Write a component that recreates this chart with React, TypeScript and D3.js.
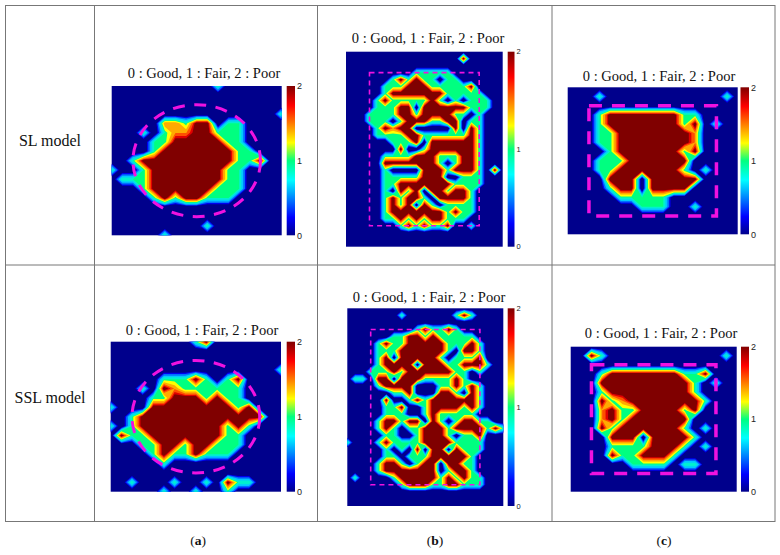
import React from 'react';
import * as d3 from 'd3';

// 0 : Good, 1 : Fair, 2 : Poor -- one string per grid row, 3 stands for a cell read as 1.5
const slA = [
  '00000000001000000',
  '00000000000000000',
  '00000000000000000',
  '00000000000000001',
  '00000331220110000',
  '00010133221110000',
  '00001122222110000',
  '00001222222211000',
  '00122222222211200',
  '10012222222110000',
  '01112222222110000',
  '00012222221110000',
  '00001212211100000',
  '00000000000000000',
  '00000000000000000',
  '00000000010000000',
  '00000100000000000',
];
const sslA = [
  '00000000120000000',
  '00000000000000000',
  '00000000000000000',
  '00000000000000001',
  '00000111210120000',
  '00010231111110000',
  '00001122212110000',
  '10002222222212000',
  '00122222222222200',
  '10122222222121000',
  '02112222222110000',
  '00011221221110000',
  '00001211211100000',
  '00000100000000000',
  '00000000000000000',
  '00100010010211000',
  '00000100100100000',
];
const slB = [
  '000000000000000000000',
  '000000000000000200000',
  '000000000000000000000',
  '000000000111110000000',
  '000000121211011000000',
  '000001112221111120000',
  '000001222222211111000',
  '000012111112101011100',
  '000011122022222211100',
  '000111122122221101000',
  '000111012221122011000',
  '000012322000002021000',
  '000011112211111121000',
  '000000111202222221000',
  '000000020012222221000',
  '000001111222111221000',
  '000002222222101221000',
  '000001000022212221020',
  '000001111122200111000',
  '000001122222221111000',
  '000001021202212210000',
  '000001212210222210000',
  '000001212021011110000',
  '000001222222212110000',
  '000001121212211100000',
  '000000012121120010000',
  '000000000000000000000',
  '000000000000000000000',
  '000000000000000000000',
];
const sslB = [
  '000000000000000000000',
  '000000010000001210000',
  '000000000000000000000',
  '000000000121121000000',
  '000000112212111110000',
  '000012112222211121000',
  '000011122222210221000',
  '000012022222101112000',
  '000012222022211222100',
  '000111212222221101000',
  '011022022211112100000',
  '000012222000112121000',
  '000000112000221021000',
  '000002001212222221000',
  '000001120012222121000',
  '000001110012111110000',
  '000012212202101221100',
  '000012101122212222121',
  '000001100122210112000',
  '100012111122221111000',
  '000001010202202111000',
  '000001101112222210000',
  '000012210122022110000',
  '000012222222012210000',
  '010000122222121211000',
  '000000012221122111000',
  '000000000000000000000',
  '000000000000000000000',
  '000000000000000000000',
];
const slC = [
  '00000000000000000',
  '00010000000000010',
  '00000000000000000',
  '00012222222110000',
  '00012222222120100',
  '00011222222230000',
  '00011222222230000',
  '00001222222120000',
  '00011122222200000',
  '00011222222101000',
  '00002220222220000',
  '00001220222200000',
  '00000111110000000',
  '00000001110010000',
  '00000000000000000',
  '00000000000000000',
  '00000000000000000',
];
const sslC = [
  '00000000000000000',
  '00210000000000010',
  '00000000000000000',
  '00012222222112000',
  '00022222222210100',
  '00012222222210000',
  '00021322222221000',
  '00032112222120000',
  '00032122222200000',
  '00021222222101000',
  '00002220222210000',
  '00001111222101000',
  '00002112221000000',
  '00000011110110000',
  '00000000000000000',
  '00000000000000000',
  '00000000000000000',
];

const levels = [0.32, 0.45, 0.62, 0.8, 1, 1.12, 1.32, 1.52, 1.68, 1.8];
const levelColors = ['#0000f0', '#0070ff', '#00c8ff', '#00f0d0', '#00ff80', '#ffff00', '#ffaa00', '#ff5000', '#e00000', '#800000'];
const navy = '#00008c';

const barStops = [0, 0.12, 0.37, 0.5, 0.62, 0.87, 1];
const barColors = ['#00008c', '#0000ff', '#00ffff', '#00ff80', '#ffff00', '#ff0000', '#800000'];
const barTicks = [0, 1, 2];

const title = '0 : Good, 1 : Fair, 2 : Poor';
const rowLabels = ['SL model', 'SSL model'];
const captions = ['a', 'b', 'c'];

type Panel = {
  rows: string[];
  box: number[];
  bar: number[];
  titleAt: number[];
  tickSize: number;
  zone: 'circle' | 'rect';
  zoneArgs: number[];
  dash: string;
  zoneWidth: number;
};

const panels: Panel[] = [
  { rows: slA, box: [111.7, 86, 281.7, 235.3], bar: [286.7, 295], titleAt: [204, 78], tickSize: 9, zone: 'circle', zoneArgs: [8, 8, 6], dash: '12 9.5', zoneWidth: 3 },
  { rows: slB, box: [346, 51.7, 502.7, 246.7], bar: [507.7, 514.5], titleAt: [428, 43], tickSize: 7.5, zone: 'rect', zoneArgs: [3, 3, 17, 25], dash: '5 4', zoneWidth: 1.6 },
  { rows: slC, box: [567.7, 87.3, 737.7, 234.3], bar: [740.5, 749], titleAt: [659, 81], tickSize: 9, zone: 'rect', zoneArgs: [2, 2, 14, 14], dash: '13 10', zoneWidth: 3.5 },
  { rows: sslA, box: [110.7, 341.7, 281, 491.7], bar: [286.7, 295], titleAt: [202, 335], tickSize: 9, zone: 'circle', zoneArgs: [8, 8, 6], dash: '12 9.5', zoneWidth: 3 },
  { rows: sslB, box: [347.3, 308.3, 503.3, 506], bar: [507.7, 514.5], titleAt: [429, 302], tickSize: 7.5, zone: 'rect', zoneArgs: [3, 3, 17, 25], dash: '5 4', zoneWidth: 1.6 },
  { rows: sslC, box: [570.7, 346.7, 736.7, 491.7], bar: [741, 749], titleAt: [661, 338], tickSize: 9, zone: 'rect', zoneArgs: [2, 2, 14, 14], dash: '13 10', zoneWidth: 3.5 },
];

const Map = ({ panel, id }: { panel: Panel; id: number }) => {
  const { rows, box, bar, titleAt, tickSize, zone, zoneArgs, dash, zoneWidth } = panel;
  const [x0, y0, x1, y1] = box;
  const ny = rows.length;
  const nx = rows[0].length;
  const values = rows.flatMap(r => r.split('').map(c => (c === '3' ? 1.5 : +c)));

  // grid index -> page pixel
  const sx = d3.scaleLinear().domain([0, nx - 1]).range([x0, x1]);
  const sy = d3.scaleLinear().domain([0, ny - 1]).range([y0, y1]);
  const sv = d3.scaleLinear().domain([0, 2]).range([y1, y0]);

  // d3.contours puts node i at i + 0.5
  const project = d3.geoTransform({
    point(x, y) {
      this.stream.point(sx(x - 0.5), sy(y - 0.5));
    },
  });
  const path = d3.geoPath(project);
  const contours = d3.contours().size([nx, ny]).thresholds(levels)(values);

  const stripe = `bar${id}`;
  const clip = `clip${id}`;

  return (
    <g>
      <defs>
        <clipPath id={clip}>
          <rect x={x0} y={y0} width={x1 - x0} height={y1 - y0} />
        </clipPath>
        <linearGradient id={stripe} x1="0" y1="1" x2="0" y2="0">
          {barStops.map((s, i) => (
            <stop key={s} offset={s} stopColor={barColors[i]} />
          ))}
        </linearGradient>
      </defs>
      <text x={titleAt[0]} y={titleAt[1]} textAnchor="middle" fontFamily="Liberation Serif" fontSize="14.5" fill="#111">
        {title}
      </text>
      <rect x={x0} y={y0} width={x1 - x0} height={y1 - y0} fill={navy} />
      <g clipPath={`url(#${clip})`}>
        {contours.map((c, i) => (
          <path key={i} d={path(c) || ''} fill={levelColors[i]} />
        ))}
      </g>
      {zone === 'circle' ? (
        <ellipse
          cx={sx(zoneArgs[0])}
          cy={sy(zoneArgs[1])}
          rx={sx(zoneArgs[2]) - sx(0)}
          ry={sy(zoneArgs[2]) - sy(0)}
          fill="none"
          stroke="#f012e0"
          strokeWidth={zoneWidth}
          strokeDasharray={dash}
        />
      ) : (
        <rect
          x={sx(zoneArgs[0])}
          y={sy(zoneArgs[1])}
          width={sx(zoneArgs[2]) - sx(zoneArgs[0])}
          height={sy(zoneArgs[3]) - sy(zoneArgs[1])}
          fill="none"
          stroke="#f012e0"
          strokeWidth={zoneWidth}
          strokeDasharray={dash}
        />
      )}
      <rect x={bar[0]} y={y0} width={bar[1] - bar[0]} height={y1 - y0} fill={`url(#${stripe})`} />
      {barTicks.map(t => (
        <text key={t} x={bar[1] + 2} y={sv(t) + tickSize * 0.36} fontFamily="Liberation Sans" fontSize={tickSize} fill="#222">
          {t}
        </text>
      ))}
    </g>
  );
};

const App = () => {
  const frame = { left: 5.5, top: 5.5, right: 775, bottom: 521.5, mid: 265 };
  const cols = [94.5, 317.5, 552];
  const rowY = [146, 403];
  const capX = [198, 435, 664];
  return (
    <svg width={780} height={555} style={{ position: 'absolute', left: 0, top: 0, background: '#fff' }}>
      <rect
        x={frame.left}
        y={frame.top}
        width={frame.right - frame.left}
        height={frame.bottom - frame.top}
        fill="none"
        stroke="#777"
      />
      <line x1={frame.left} x2={frame.right} y1={frame.mid} y2={frame.mid} stroke="#777" />
      {cols.map(c => (
        <line key={c} x1={c} x2={c} y1={frame.top} y2={frame.bottom} stroke="#777" />
      ))}
      {rowLabels.map((l, i) => (
        <text key={l} x={50} y={rowY[i]} textAnchor="middle" fontFamily="Liberation Serif" fontSize="16" fill="#111">
          {l}
        </text>
      ))}
      {panels.map((p, i) => (
        <Map key={i} panel={p} id={i} />
      ))}
      {captions.map((c, i) => (
        <text key={c} x={capX[i]} y={545} textAnchor="middle" fontFamily="Liberation Serif" fontSize="13.5" fill="#111">
          (<tspan fontWeight="bold">{c}</tspan>)
        </text>
      ))}
    </svg>
  );
};

export default App;
